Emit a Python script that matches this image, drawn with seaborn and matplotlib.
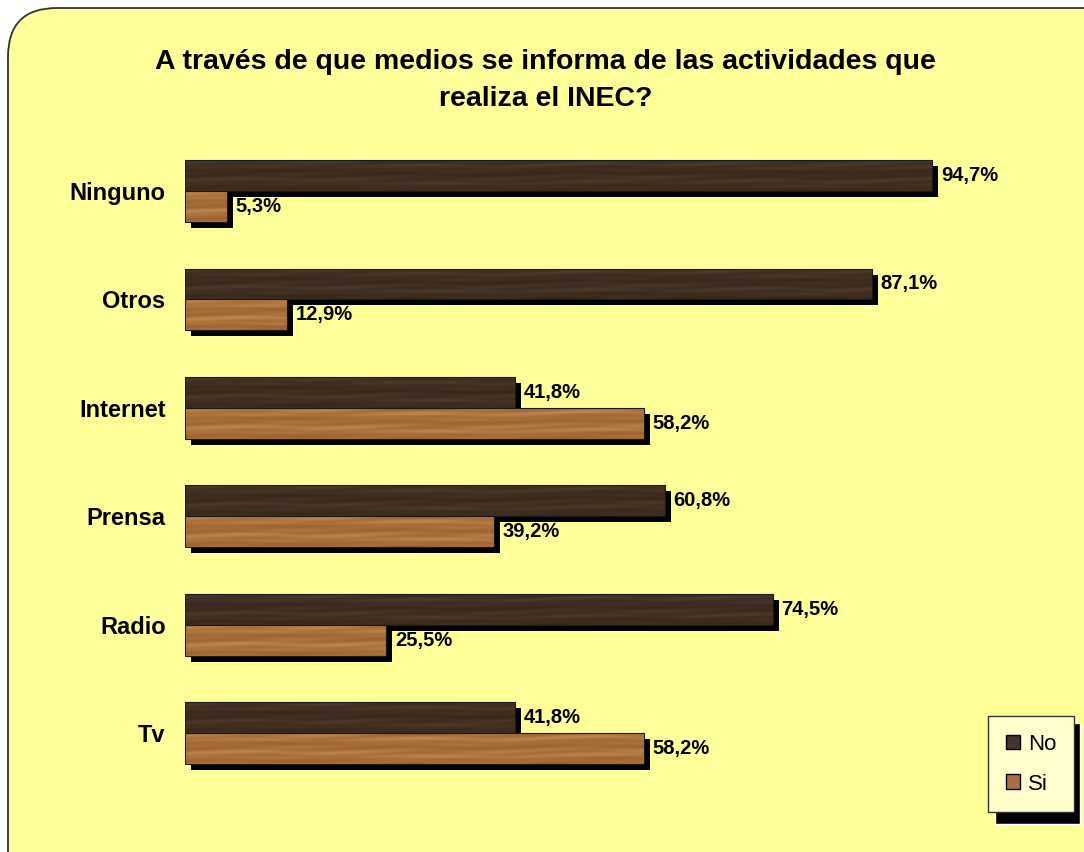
import matplotlib.pyplot as plt
import matplotlib.transforms as mtransforms
from matplotlib.patches import Rectangle, FancyBboxPatch, Patch
from matplotlib.colors import LinearSegmentedColormap
import seaborn as sns
import pandas as pd
import numpy as np

# data
medios = ["Ninguno", "Otros", "Internet", "Prensa", "Radio", "Tv"]
no_vals = [94.7, 87.1, 41.8, 60.8, 74.5, 41.8]
si_vals = [5.3, 12.9, 58.2, 39.2, 25.5, 58.2]
series = ["No", "Si"]
title = "A través de que medios se informa de las actividades que\nrealiza el INEC?"

df = pd.DataFrame({
    "Medio": medios * 2,
    "Valor": no_vals + si_vals,
    "Serie": ["No"] * len(medios) + ["Si"] * len(medios),
})

sns.set_style("white")
plt.rcParams["font.family"] = ["Liberation Sans", "DejaVu Sans"]
plt.rcParams["text.color"] = "black"
plt.rcParams["ytick.color"] = "black"
plt.rcParams["ytick.labelcolor"] = "black"

bg = "#FFFF99"
colors = {"No": "#45342a", "Si": "#a8703c"}
wood = {
    "No": LinearSegmentedColormap.from_list("wood_no", ["#372719", "#3f2e21", "#4d3a2a"]),
    "Si": LinearSegmentedColormap.from_list("wood_si", ["#9c622f", "#a96f3a", "#bd8750"]),
}

# soft wood grain pattern (styling only)
gx, gy = np.meshgrid(np.linspace(0, 60, 600), np.linspace(0, 6, 30))
grain = (np.sin(gy * 1.9 + 0.6 * np.sin(gx * 0.23)) * 0.45
         + np.sin(gx * 0.61 + gy * 3.3) * 0.25
         + np.sin(gy * 5.3 + np.sin(gx * 0.47) * 1.2 + gx * 0.11) * 0.3)
grain = (grain - grain.min()) / (grain.max() - grain.min())

fig = plt.figure(figsize=(10.84, 8.52), dpi=100, facecolor="white")

# rounded yellow frame
frame = FancyBboxPatch((8 / 1084, -0.1), 1.2, 1 - 8 / 852 + 0.1,
                       boxstyle="round,pad=0,rounding_size=0.045",
                       transform=fig.transFigure, facecolor=bg,
                       edgecolor="#333333", linewidth=1.3, zorder=-5,
                       mutation_aspect=1084 / 852)
fig.patches.append(frame)

ax = fig.add_axes([185 / 1084, 0.076, 0.7278, 0.7634])
ax.set_facecolor("none")
ax.set_zorder(1)

sns.barplot(data=df, y="Medio", x="Valor", hue="Serie", orient="h",
            palette=colors, width=0.57, dodge=True, ax=ax, legend=False,
            edgecolor="#1a1a1a", linewidth=0.8, zorder=3)

shadow_tr = ax.transData + mtransforms.ScaledTranslation(6 / 100, -6 / 100, fig.dpi_scale_trans)
for cont, vals, s in zip(ax.containers, [no_vals, si_vals], series):
    for bar, v in zip(cont, vals):
        x, y = bar.get_xy()
        w, h = bar.get_width(), bar.get_height()
        sh = Rectangle((x, y), w, h, transform=shadow_tr, facecolor="black",
                       edgecolor="none", zorder=2)
        ax.add_patch(sh)
        im = ax.imshow(grain[:, :max(int(w * 6), 2)], cmap=wood[s], aspect="auto",
                       extent=[x, x + w, y + h, y], zorder=3.2,
                       interpolation="bilinear")
        im.set_clip_path(bar)
        bar.set_zorder(3.5)
        bar.set_facecolor("none")
        ax.text(v + 1.1, y + h / 2, f"{v:.1f}%".replace(".", ","),
                va="center", ha="left", fontsize=14.5, fontweight="bold",
                color="black", zorder=4)

ax.set_xlim(0, 100)
ax.set_ylim(5.5, -0.5)
ax.set_xlabel("")
ax.set_ylabel("")
ax.set_xticks([])
ax.tick_params(axis="y", length=0, pad=14)
for lab in ax.get_yticklabels():
    lab.set_fontweight("bold")
    lab.set_fontsize(17)
sns.despine(ax=ax, left=True, bottom=True)

fig.text(0.503, 0.905, title, ha="center", va="center", fontsize=20.5,
         fontweight="bold", linespacing=1.55, color="black")

# legend with shadow
fig.patches.append(Rectangle((995 / 1084, 1 - 824 / 852), 85 / 1084, 101 / 852,
                             transform=fig.transFigure, facecolor="black",
                             zorder=2))
handles = [Patch(facecolor=colors[s], edgecolor="black", label=s) for s in series]
leg = fig.legend(handles=handles, loc="upper left",
                 bbox_to_anchor=(988 / 1084, 1 - 716 / 852),
                 frameon=True, fancybox=False, shadow=False, borderaxespad=0,
                 fontsize=16, handlelength=0.65, handleheight=0.65,
                 handletextpad=0.35, labelspacing=0.85, borderpad=0.8)
leg.set_zorder(3)
leg.get_frame().set_facecolor("#FFFFCC")
leg.get_frame().set_edgecolor("#333333")
leg.get_frame().set_alpha(1)

fig.savefig("out.png", dpi=100, facecolor="white")
